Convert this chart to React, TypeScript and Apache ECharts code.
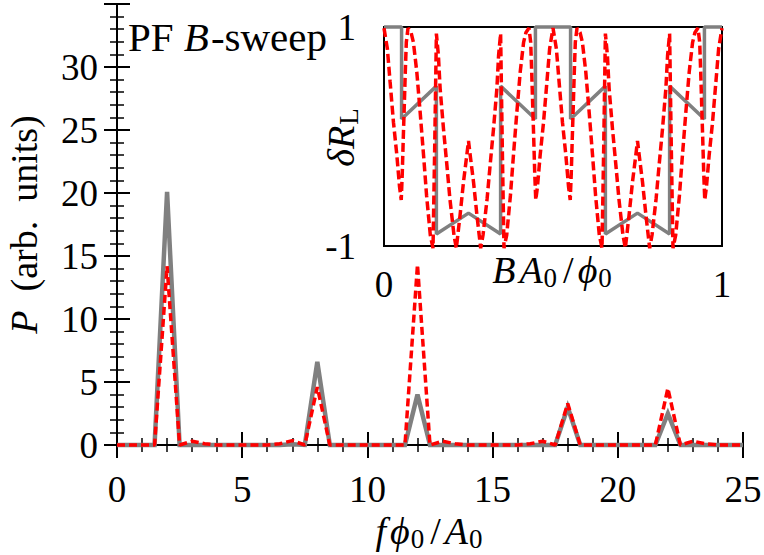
import React, { useEffect, useRef } from "react";
import * as echarts from "echarts";

// ---------- main spectrum data ----------
const freqX = [
  0, 0.5, 1, 1.5, 2, 2.5, 3, 3.5, 4, 4.5, 5, 5.5, 6, 6.5, 7, 7.5, 8, 8.5, 9, 9.5,
  10, 10.5, 11, 11.5, 12, 12.5, 13, 13.5, 14, 14.5, 15, 15.5, 16, 16.5, 17, 17.5,
  18, 18.5, 19, 19.5, 20, 20.5, 21, 21.5, 22, 22.5, 23, 23.5, 24, 24.5, 25,
];
const powerGray = [
  0, 0, 0, 0, 20.1, 0, 0, 0, 0, 0, 0, 0, 0, 0, 0.05, 0, 6.6, 0, 0, 0,
  0, 0, 0, 0, 4.0, 0, 0, 0, 0, 0, 0, 0, 0, 0, 0, 0,
  3.0, 0, 0, 0, 0, 0, 0, 0, 2.5, 0, 0, 0, 0, 0, 0,
];
const powerRed = [
  0, 0, 0, 0, 14.2, 0, 0.3, 0.1, 0, 0, 0, 0, 0, 0.1, 0.35, 0, 4.6, 0, 0, 0,
  0, 0, 0, 0, 14.3, 0, 0.3, 0.1, 0, 0, 0, 0, 0, 0.1, 0.3, 0,
  3.3, 0, 0, 0, 0, 0, 0, 0, 4.5, 0, 0.3, 0.1, 0, 0, 0,
];
const mainXTicks = [0, 5, 10, 15, 20, 25];
const mainYTicks = [0, 5, 10, 15, 20, 25, 30];

// ---------- inset data (B A0 / phi0 vs delta R_L) ----------
const insetGrayX = [0, 0.052, 0.052, 0.155, 0.155, 0.25, 0.345, 0.345, 0.448, 0.448, 0.552, 0.552, 0.655, 0.655, 0.75, 0.845, 0.845, 0.948, 0.948, 1];
const insetGrayY = [1, 1, 0.16, 0.46, -0.89, -0.7, -0.89, 0.46, 0.16, 1, 1, 0.16, 0.46, -0.89, -0.7, -0.89, 0.46, 0.16, 1, 1];

const insetRedX = [
  0.0, 0.01, 0.018, 0.028, 0.038, 0.046, 0.051, 0.054, 0.057, 0.06, 0.063, 0.066, 0.071, 0.08, 0.087, 0.097, 0.107, 0.117, 0.126, 0.137, 0.145, 0.15, 0.155, 0.161, 0.166, 0.176, 0.186, 0.195, 0.207, 0.214, 0.225, 0.235, 0.245, 0.25,
  0.255, 0.265, 0.275, 0.286, 0.293, 0.305, 0.314, 0.324, 0.334, 0.339, 0.345, 0.35, 0.355, 0.363, 0.374, 0.383, 0.393, 0.403, 0.413, 0.42, 0.429, 0.434, 0.437, 0.44, 0.443, 0.446, 0.449, 0.454, 0.462, 0.472, 0.482, 0.49, 0.5,
  0.51, 0.518, 0.528, 0.538, 0.546, 0.551, 0.554, 0.557, 0.56, 0.563, 0.566, 0.571, 0.58, 0.587, 0.597, 0.607, 0.617, 0.626, 0.637, 0.645, 0.65, 0.655, 0.661, 0.666, 0.676, 0.686, 0.695, 0.707, 0.714, 0.725, 0.735, 0.745, 0.75,
  0.755, 0.765, 0.775, 0.786, 0.793, 0.805, 0.814, 0.824, 0.834, 0.839, 0.845, 0.85, 0.855, 0.863, 0.874, 0.883, 0.893, 0.903, 0.913, 0.92, 0.929, 0.934, 0.937, 0.94, 0.943, 0.946, 0.949, 0.954, 0.962, 0.972, 0.982, 0.99, 1.0,
];
const insetRedY = [
  0.99, 0.8, 0.5, 0.13, -0.17, -0.46, -0.58, -0.34, -0.02, 0.28, 0.59, 0.86, 0.99, 0.95, 0.86, 0.59, 0.22, -0.17, -0.54, -0.9, -1.02, -0.1, 0.94, 0.74, 0.44, 0.07, -0.26, -0.57, -0.9, -1.02, -0.72, -0.42, -0.17, -0.04,
  -0.17, -0.42, -0.72, -1.02, -0.9, -0.57, -0.26, 0.07, 0.44, 0.74, 0.94, -0.1, -1.02, -0.9, -0.54, -0.17, 0.22, 0.59, 0.86, 0.95, 0.99, 0.86, 0.59, 0.28, -0.02, -0.34, -0.58, -0.46, -0.17, 0.13, 0.5, 0.8, 0.99,
  0.8, 0.5, 0.13, -0.17, -0.46, -0.58, -0.34, -0.02, 0.28, 0.59, 0.86, 0.99, 0.95, 0.86, 0.59, 0.22, -0.17, -0.54, -0.9, -1.02, -0.1, 0.94, 0.74, 0.44, 0.07, -0.26, -0.57, -0.9, -1.02, -0.72, -0.42, -0.17, -0.04,
  -0.17, -0.42, -0.72, -1.02, -0.9, -0.57, -0.26, 0.07, 0.44, 0.74, 0.94, -0.1, -1.02, -0.9, -0.54, -0.17, 0.22, 0.59, 0.86, 0.95, 0.99, 0.86, 0.59, 0.28, -0.02, -0.34, -0.58, -0.46, -0.17, 0.13, 0.5, 0.8, 0.99,
];
const insetXTicks = [0, 1];
const insetYTicks = [-1, 1];

const FONT = "'Liberation Serif', 'DejaVu Serif', serif";
const FS = 37;
const NFS = 38;
const SFS = 27;
const GRAY = "#808080";
const RED = "#ff0000";

const zip = (xs: number[], ys: number[]) => xs.map((x, i) => [x, ys[i]]);

export default function App() {
  const ref = useRef<HTMLDivElement>(null);
  useEffect(() => {
    if (!ref.current) return;
    const chart = echarts.init(ref.current, undefined, { renderer: "svg" });
    const base = { fontFamily: FONT, color: "#000", lineHeight: 36 };
    const rich: any = {
      i: { ...base, fontStyle: "italic", fontSize: NFS },
      ip: { ...base, fontStyle: "italic", fontSize: NFS, padding: [0, 4, 0, 0] },
      n: { ...base, fontSize: NFS },
      sl: { ...base, fontSize: NFS, padding: [0, 4, 0, 4] },
      s: { fontFamily: FONT, color: "#000", fontSize: SFS, lineHeight: 36, padding: [16, 2, 0, 1] },
      t: { fontFamily: FONT, color: "#000", lineHeight: 40, fontSize: 41 },
      ti: { fontFamily: FONT, color: "#000", lineHeight: 40, fontSize: 41, fontStyle: "italic", padding: [0, 2, 0, 0] },
    };
    const tickBase = {
      axisLine: { show: true, lineStyle: { color: "#000", width: 2 } },
      axisTick: { show: true, inside: true, length: 13, lineStyle: { color: "#000", width: 2 } },
      minorTick: { show: true, splitNumber: 5, length: 7, lineStyle: { color: "#000", width: 1.5 } },
      splitLine: { show: false },
      minorSplitLine: { show: false },
    };
    chart.setOption({
      animation: false,
      backgroundColor: "#fff",
      grid: [
        { left: 117, top: 4, width: 626, height: 441, show: false, containLabel: false, outerBoundsMode: "none" },
        { left: 384, top: 27, width: 338, height: 219, show: true, borderColor: "#000", borderWidth: 2, backgroundColor: "#fff", z: 5, containLabel: false, outerBoundsMode: "none" },
      ],
      xAxis: [
        {
          type: "value", gridIndex: 0, min: 0, max: 25, interval: 5, position: "bottom",
          ...tickBase,
          axisLabel: { fontFamily: FONT, fontSize: FS, color: "#000", margin: 26, customValues: mainXTicks },
          name: "{ip|f}{i|ϕ}{s|0}{sl|/}{i|A}{s|0}",
          nameLocation: "middle", nameGap: 68, nameMoveOverlap: false,
          nameTextStyle: { rich },
        },
        {
          type: "value", gridIndex: 0, min: 0, max: 25, interval: 5, position: "top",
          ...tickBase,
          axisLabel: { show: false },
        },
        {
          type: "value", gridIndex: 1, min: 0, max: 1, interval: 1, position: "bottom", z: 6,
          axisLine: { show: false }, axisTick: { show: false }, splitLine: { show: false },
          axisLabel: { fontFamily: FONT, fontSize: FS, color: "#000", margin: 20, customValues: insetXTicks },
          name: "{ip|B}{i|A}{s|0}{sl|/}{i|ϕ}{s|0}",
          nameLocation: "middle", nameGap: 6, nameMoveOverlap: false,
          nameTextStyle: { rich },
        },
      ],
      yAxis: [
        {
          type: "value", gridIndex: 0, min: 0, max: 35, interval: 5, position: "left",
          ...tickBase,
          axisLabel: { fontFamily: FONT, fontSize: FS, color: "#000", margin: 19, customValues: mainYTicks },
          name: "{i|P}{n|  (arb.  units)}",
          nameLocation: "middle", nameGap: 75, nameRotate: 90, nameMoveOverlap: false,
          nameTextStyle: { rich },
        },
        {
          type: "value", gridIndex: 0, min: 0, max: 35, interval: 5, position: "right",
          ...tickBase,
          axisLabel: { show: false },
        },
        {
          type: "value", gridIndex: 1, min: -1, max: 1, interval: 1, position: "left", z: 6,
          axisLine: { show: false }, axisTick: { show: false }, splitLine: { show: false },
          axisLabel: { fontFamily: FONT, fontSize: FS, color: "#000", margin: 28, customValues: insetYTicks },
          name: "{i|δR}{s|L}",
          nameLocation: "middle", nameGap: 25, nameRotate: 90, nameMoveOverlap: false,
          nameTextStyle: { rich },
        },
      ],
      graphic: [
        {
          type: "text", left: 128, top: 16, z: 10,
          style: {
            text: "{t|PF }{ti|B}{t|-sweep}",
            rich,
          },
        },
      ],
      series: [
        {
          type: "line", xAxisIndex: 0, yAxisIndex: 0, data: zip(freqX, powerGray),
          symbol: "none", clip: false, z: 2,
          lineStyle: { color: GRAY, width: 4.5, join: "miter" },
        },
        {
          type: "line", xAxisIndex: 0, yAxisIndex: 0, data: zip(freqX, powerRed),
          symbol: "none", clip: false, z: 3,
          lineStyle: { color: RED, width: 3.5, type: [8, 4] },
        },
        {
          type: "line", xAxisIndex: 2, yAxisIndex: 2, data: zip(insetGrayX, insetGrayY),
          symbol: "none", clip: false, z: 7,
          lineStyle: { color: GRAY, width: 3.5 },
        },
        {
          type: "line", xAxisIndex: 2, yAxisIndex: 2, data: zip(insetRedX, insetRedY),
          symbol: "none", clip: false, z: 8,
          lineStyle: { color: RED, width: 3.5, type: [9, 4] },
        },
      ],
    });
    return () => chart.dispose();
  }, []);
  return (
    <div
      ref={ref}
      style={{ position: "absolute", left: 0, top: 0, width: 764, height: 555 }}
    />
  );
}
